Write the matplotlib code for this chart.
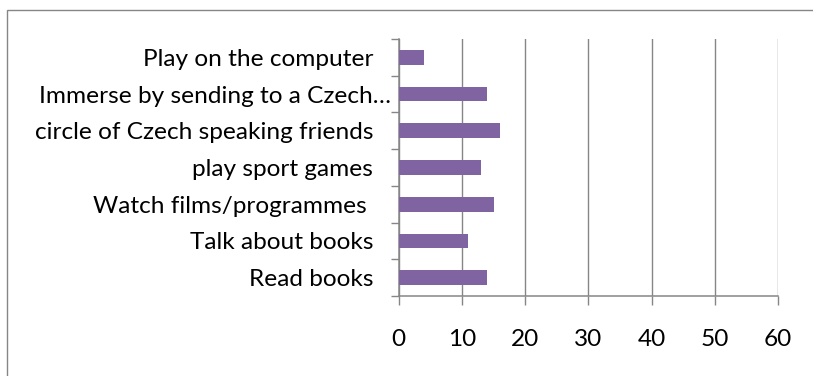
import matplotlib.pyplot as plt
from matplotlib.patches import Rectangle

plt.rcParams['font.family'] = ['Lato', 'DejaVu Sans']

# Respuestas por actividad (de abajo hacia arriba)
actividades = ["Read books", "Talk about books", "Watch films/programmes ",
               "play sport games", "circle of Czech speaking friends",
               "Immerse by sending to a Czech…", "Play on the computer"]
respuestas = [14, 11, 15, 13, 16, 14, 4]
marcas_x = [0, 10, 20, 30, 40, 50, 60]

gris = "#868686"
morado = "#8064A2"

fig = plt.figure(figsize=(8.13, 3.76), dpi=100)
ax = fig.add_axes([0.4904, 0.2128, 0.957 - 0.4904, 0.8963 - 0.2128])

pos = range(len(actividades))
ax.barh(pos, respuestas, height=0.4, color=morado, zorder=3)

ax.set_xlim(0, 60)
ax.set_ylim(-0.5, len(actividades) - 0.5)
ax.set_xticks(marcas_x)
ax.xaxis.grid(True, color=gris, linewidth=1.0, zorder=0)

# Etiquetas centradas en cada barra, marcas en los limites de categoria
ax.set_yticks(list(pos))
ax.set_yticklabels(actividades)
ax.set_yticks([i - 0.5 for i in range(len(actividades) + 1)], minor=True)
ax.tick_params(axis='y', which='major', length=0, pad=18.5, labelsize=17.6, labelcolor="black")
ax.tick_params(axis='y', which='minor', length=6, width=1.0, color=gris, direction='out')
ax.tick_params(axis='x', length=6.5, width=1.0, color=gris, direction='out', pad=17, labelsize=17.6)
ax.yaxis.get_major_ticks()[5].set_pad(5.5)

for lado in ['top', 'right']:
    ax.spines[lado].set_visible(False)
for lado in ['left', 'bottom']:
    ax.spines[lado].set_color(gris)
    ax.spines[lado].set_linewidth(1.1)

# Marco del grafico
marco = Rectangle((6.5, -20), 840, 366.5 + 20, transform=None, fill=False,
                  edgecolor=gris, linewidth=1.0, clip_on=False)
fig.patches.append(marco)

fig.savefig("out.png", dpi=100)
